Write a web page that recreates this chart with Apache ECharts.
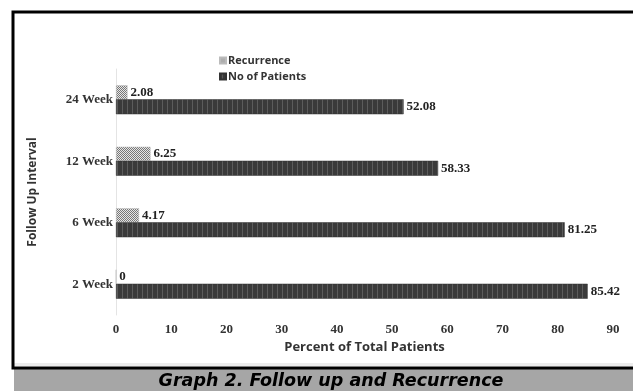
<!DOCTYPE html>
<html>
<head>
<meta charset="utf-8">
<script src="https://cdn.jsdelivr.net/npm/echarts@6/dist/echarts.min.js"></script>
<style>
  html, body { margin: 0; padding: 0; background: #fff; }
  #main { width: 633px; height: 391px; }
</style>
</head>
<body>
<div id="main"></div>
<script>
const chart = echarts.init(document.getElementById('main'))

// data
const intervals = ['2 Week', '6 Week', '12 Week', '24 Week']
const recurrence = [0, 4.17, 6.25, 2.08]
const patients = [85.42, 81.25, 58.33, 52.08]
const xTicks = [0, 10, 20, 30, 40, 50, 60, 70, 80, 90]

// hatch fills like the excel bars
const makePattern = (w, h, draw) => {
  const c = document.createElement('canvas')
  c.width = w
  c.height = h
  draw(c.getContext('2d'))
  return { image: c, repeat: 'repeat' }
}
const darkFill = makePattern(5, 4, (ctx) => {
  ctx.fillStyle = '#3a3a3a'
  ctx.fillRect(0, 0, 5, 4)
  ctx.fillStyle = '#5c5c5c'
  ctx.fillRect(2, 0, 1, 4)
})
const lightFill = makePattern(2, 2, (ctx) => {
  ctx.fillStyle = '#e6e6e6'
  ctx.fillRect(0, 0, 2, 2)
  ctx.fillStyle = '#777'
  ctx.fillRect(0, 0, 1, 1)
  ctx.fillRect(1, 1, 1, 1)
})

const serif = 'Liberation Serif'
const sans = 'Open Sans'

let labelStyle = {
  show: true,
  position: 'right',
  distance: 3,
  fontFamily: serif,
  fontWeight: 'bold',
  fontSize: 13,
  color: '#222'
}

let option = {
  backgroundColor: '#fff',
  animation: false,
  legend: {
    orient: 'vertical',
    left: 214,
    top: 50,
    itemWidth: 6,
    itemHeight: 6,
    itemGap: 5,
    icon: 'rect',
    textStyle: { fontFamily: sans, fontWeight: 'bold', fontSize: 11, color: '#333', padding: [0, 0, 0, -3] },
    data: ['Recurrence', 'No of Patients']
  },
  grid: {
    left: 116,
    right: 20,
    top: 69,
    bottom: 76
  },
  xAxis: {
    type: 'value',
    min: 0,
    max: 90,
    interval: 10,
    name: 'Percent of Total Patients',
    nameLocation: 'middle',
    nameGap: 26,
    nameTextStyle: { fontFamily: sans, fontWeight: 'bold', fontSize: 13, color: '#333' },
    axisLine: { show: false },
    axisTick: { show: false },
    splitLine: { show: false },
    axisLabel: {
      margin: 8,
      fontFamily: serif,
      fontWeight: 'bold',
      fontSize: 13,
      color: '#333',
      formatter: (v) => xTicks.includes(v) ? String(v) : ''
    }
  },
  yAxis: {
    type: 'category',
    data: intervals,
    name: 'Follow Up Interval',
    nameLocation: 'middle',
    nameGap: 77,
    nameRotate: 90,
    nameTextStyle: { fontFamily: sans, fontWeight: 'bold', fontSize: 12, color: '#333' },
    axisLine: { lineStyle: { color: '#e4e4e4', width: 1 } },
    axisTick: { show: false },
    axisLabel: {
      margin: 3,
      fontFamily: serif,
      fontWeight: 'bold',
      fontSize: 13,
      color: '#333'
    }
  },
  series: [
    {
      name: 'Recurrence',
      type: 'bar',
      barWidth: 14,
      barGap: '0%',
      itemStyle: { color: lightFill, borderColor: '#bbb', borderWidth: 0.5 },
      label: labelStyle,
      data: recurrence
    },
    {
      name: 'No of Patients',
      type: 'bar',
      barWidth: 15,
      barGap: '0%',
      itemStyle: { color: darkFill, borderColor: '#333', borderWidth: 0.5 },
      label: labelStyle,
      data: patients
    }
  ],
  graphic: [
    {
      type: 'rect',
      shape: { x: 13, y: 12, width: 660, height: 356 },
      style: { fill: 'none', stroke: '#000', lineWidth: 3 },
      z: 10
    },
    {
      type: 'rect',
      shape: { x: 14, y: 363, width: 660, height: 3 },
      style: { fill: '#ececec' },
      z: 9
    },
    {
      type: 'rect',
      shape: { x: 14, y: 369, width: 660, height: 30 },
      style: { fill: '#a6a6a6' },
      z: 9
    },
    {
      type: 'text',
      x: 331,
      y: 381,
      style: {
        text: 'Graph 2. Follow up and Recurrence',
        fontFamily: 'DejaVu Sans',
        fontWeight: 'bold',
        fontStyle: 'italic',
        fontSize: 17.5,
        fill: '#000',
        align: 'center',
        verticalAlign: 'middle'
      },
      z: 11
    }
  ]
}

chart.setOption(option)
</script>
</body>
</html>
